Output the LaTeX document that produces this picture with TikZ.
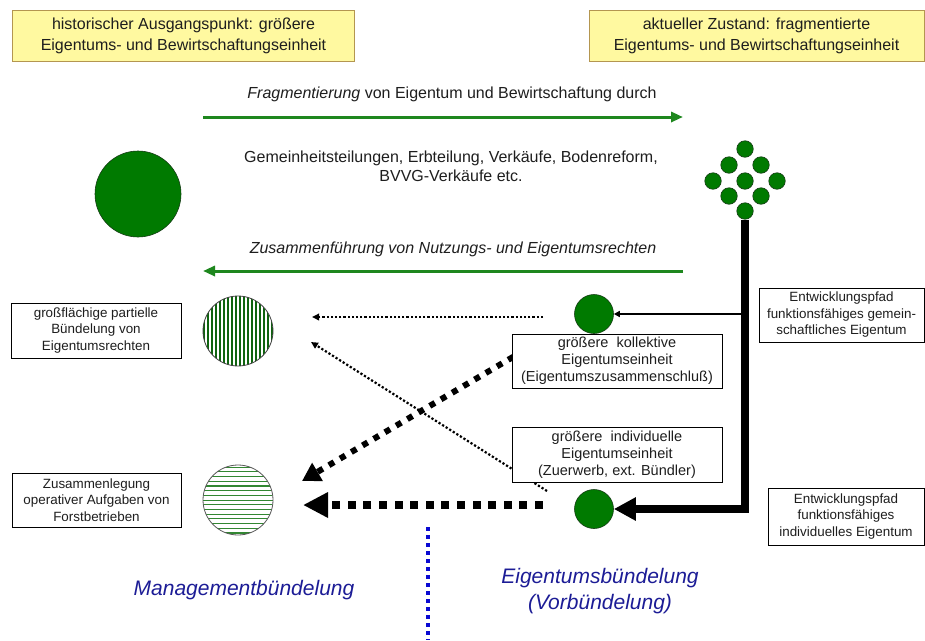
\documentclass[tikz,border=0pt]{standalone}
\usepackage{fontspec}
\setmainfont{Liberation Sans}
\usetikzlibrary{arrows.meta}

\definecolor{leafgreen}{RGB}{0,122,0}
\definecolor{leafedge}{RGB}{20,60,20}
\definecolor{arrowgreen}{RGB}{30,135,30}
\definecolor{noteyellow}{RGB}{255,249,160}
\definecolor{noteedge}{RGB}{180,150,80}
\definecolor{labelblue}{RGB}{28,28,150}
\definecolor{dividerblue}{RGB}{10,10,210}
\definecolor{vstripe}{RGB}{15,100,15}
\definecolor{hstripe}{RGB}{50,135,50}
\definecolor{inkgray}{RGB}{30,30,30}

\tikzset{
  headbox/.style={draw=noteedge, fill=noteyellow, line width=1pt, align=center,
    inner sep=0pt, text=inkgray, font=\fontsize{16}{21}\selectfont},
  infobox/.style={draw=black, fill=white, line width=0.9pt, align=center,
    inner sep=0pt, text=inkgray, font=\fontsize{13.4}{16.5}\selectfont},
  unitbox/.style={infobox, font=\fontsize{14.5}{17}\selectfont},
  plaintext/.style={align=center, inner sep=0pt, text=inkgray,
    font=\fontsize{16}{19}\selectfont},
  phase/.style={align=center, inner sep=0pt, text=labelblue,
    font=\fontsize{21}{26}\selectfont\itshape},
  disc/.style={circle, fill=leafgreen, draw=leafedge, line width=0.6pt, inner sep=0pt},
  striped/.style={circle, draw=black!75, line width=0.8pt, inner sep=0pt,
    minimum size=70pt},
  vstripes/.style={path picture={
    \foreach \k in {-34,-30,...,34}{
      \draw[vstripe, line width=1.7pt]
        ([xshift=\k pt]path picture bounding box.north) --
        ([xshift=\k pt]path picture bounding box.south);}}},
  hstripes/.style={path picture={
    \foreach \k in {-33,-28.3,...,34}{
      \draw[hstripe, line width=1.1pt]
        ([yshift=\k pt]path picture bounding box.west) --
        ([yshift=\k pt]path picture bounding box.east);}}},
  flow/.style={arrowgreen, line width=3pt, -{Triangle[length=12pt,width=10pt]}},
  trunk/.style={black, line width=8pt, line join=miter,
    -{Triangle[length=22pt,width=22pt]}},
  branch/.style={black, line width=2pt, -{Triangle[length=6pt,width=6pt]}},
  finedots/.style={black, line width=2.2pt, dash pattern=on 2.2pt off 2pt,
    -{Triangle[length=7pt,width=6.5pt]}},
  blockdots/.style={black, line width=6pt, dash pattern=on 6pt off 7pt,
    -{Triangle[length=18pt,width=20pt]}},
  bigdots/.style={black, line width=8pt, dash pattern=on 8pt off 7.6pt,
    -{Triangle[length=25pt,width=24pt]}},
  divider/.style={dividerblue, line width=4pt, dash pattern=on 4pt off 4pt}
}

\begin{document}
\begin{tikzpicture}[x=1pt, y=-1pt]
\useasboundingbox (0,0) rectangle (925,640);
\fill[white] (0,0) rectangle (925,640);

% header notes
\node[headbox, minimum width=342pt, minimum height=51pt] (past) at (183.5,35.5)
  {historischer Ausgangspunkt: größere\\Eigentums- und Bewirtschaftungseinheit};
\node[headbox, minimum width=335pt, minimum height=51pt] (now) at (756.5,35.5)
  {aktueller Zustand: fragmentierte\\Eigentums- und Bewirtschaftungseinheit};

% fragmentation flow
\node[plaintext] (fragtxt) at (452,94)
  {\textit{Fragmentierung} von Eigentum und Bewirtschaftung durch};
\coordinate (fragL) at (203,117);
\coordinate (fragR) at (683,117);
\draw[flow] (fragL) -- (fragR);
\node[plaintext] (causes) at (451,166)
  {Gemeinheitsteilungen, Erbteilung, Verkäufe, Bodenreform,\\BVVG-Verkäufe etc.};

% large historical unit
\node[disc, minimum size=86pt] (hist) at (138,194) {};

% fragmented small units
\foreach \n/\x/\y in {1/745/149, 2/729/165, 3/761/165, 4/713/181, 5/745/181,
                      6/777/181, 7/729/196, 8/761/196, 9/745/211}
  \node[disc, minimum size=16.5pt] (f\n) at (\x,\y) {};

% merging flow
\node[plaintext, font=\fontsize{16}{19}\selectfont\itshape] (mergetxt) at (453,249)
  {Zusammenführung von Nutzungs- und Eigentumsrechten};
\coordinate (mergeR) at (683,271);
\coordinate (mergeL) at (203,271);
\draw[flow] (mergeR) -- (mergeL);

% bundled units on the left
\node[infobox, minimum width=170pt, minimum height=55pt] (rightsbox) at (96,330.5)
  {großflächige partielle\\Bündelung von\\Eigentumsrechten};
\node[striped, vstripes] (rights) at (238,331) {};
\node[infobox, minimum width=169pt, minimum height=54pt] (opsbox) at (96.5,500)
  {Zusammenlegung\\operativer Aufgaben von\\Forstbetrieben};
\node[striped, hstripes, draw=black!65] (ops) at (238,500) {};

% bundled units on the right
\node[disc, minimum size=39pt] (coll) at (594,314) {};
\node[disc, minimum size=39pt] (indiv) at (594,509) {};

% pathways from the fragmented units
\draw[trunk] (f9.south) |- (indiv.east);
\draw[branch] (f9.south |- coll.east) -- (coll.east);

% bundling arrows
\coordinate (h1s) at (543,317);
\coordinate (h1e) at (312,317);
\coordinate (d1s) at (547,491);
\coordinate (d1e) at (311,342);
\coordinate (d2s) at (547,337);
\coordinate (d2e) at (302,481);
\coordinate (h2s) at (543,505);
\coordinate (h2e) at (303,505);
\draw[finedots] (h1s) -- (h1e);
\draw[finedots] (d1s) -- (d1e);
\draw[blockdots] (d2s) -- (d2e);
\draw[bigdots] (h2s) -- (h2e);

% labels of the right-hand units
\node[unitbox, minimum width=210pt, minimum height=54pt] (collbox) at (617,361)
  {größere\ \ kollektive\\Eigentumseinheit\\(Eigentumszusammenschluß)};
\node[unitbox, minimum width=210pt, minimum height=55pt] (indivbox) at (617,454.5)
  {größere\ \ individuelle\\Eigentumseinheit\\(Zuerwerb, ext. Bündler)};
\node[infobox, minimum width=165pt, minimum height=54pt] (pathcoll) at (841.5,315)
  {Entwicklungspfad\\funktionsfähiges gemein-\\schaftliches Eigentum};
\node[infobox, minimum width=156pt, minimum height=57pt] (pathindiv) at (846,516.5)
  {Entwicklungspfad\\funktionsfähiges\\individuelles Eigentum};

% kinds of bundling
\coordinate (divtop) at (428,527);
\coordinate (divbot) at (428,640);
\draw[divider] (divtop) -- (divbot);
\node[phase] (mgmt) at (244,590) {Managementbündelung};
\node[phase] (owner) at (600,591) {Eigentumsbündelung\\(Vorbündelung)};
\end{tikzpicture}
\end{document}
